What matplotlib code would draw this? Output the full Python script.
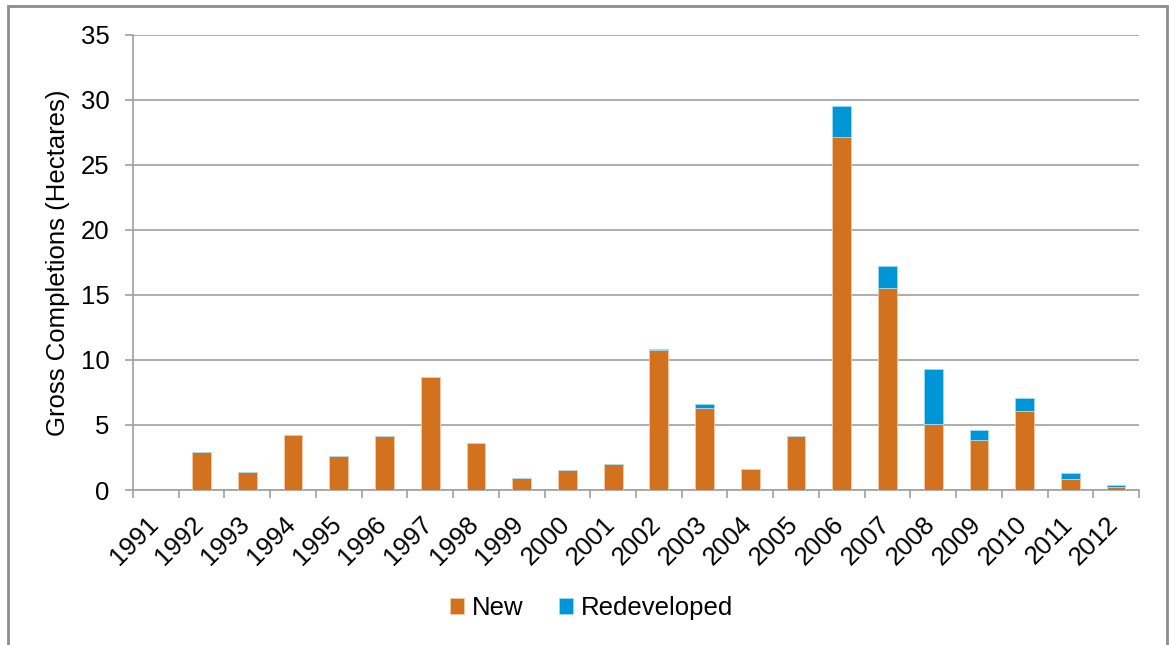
import numpy as np
import matplotlib.pyplot as plt
from matplotlib.patches import Rectangle
from matplotlib.transforms import ScaledTranslation

plt.rcParams['font.family'] = ['Liberation Sans', 'DejaVu Sans']

# Gross completions by year (hectares)
years = [str(y) for y in range(1991, 2013)]
new = [0.0, 2.96, 1.40, 4.26, 2.58, 4.16, 8.67, 3.65, 0.92, 1.51, 1.99,
       10.74, 6.33, 1.61, 4.16, 27.17, 15.52, 5.06, 3.88, 6.04, 0.82, 0.21]
redeveloped = [0.0, 0.0, 0.0, 0.0, 0.0, 0.0, 0.0, 0.0, 0.0, 0.0, 0.0,
               0.12, 0.30, 0.0, 0.0, 2.39, 1.69, 4.24, 0.70, 1.00, 0.47, 0.21]

orange = '#D2711E'
blue = '#0095D6'
grey = '#A0A0A0'
fs = 18.5

fig = plt.figure(figsize=(11.69, 6.45), dpi=100)
ax = fig.add_axes([0.1138, 0.2403, 0.8605, 0.7057])

x = np.arange(len(years))
w = 0.41
ax.bar(x, new, width=w, color=orange, edgecolor='#F2C9A8', linewidth=0.6,
       label='New', zorder=3)
ax.bar(x, redeveloped, width=w, bottom=new, color=blue, edgecolor='#9FDCF5',
       linewidth=0.6, label='Redeveloped', zorder=3)

ax.set_xlim(-0.5, len(years) - 0.5)
ax.set_ylim(0, 35)
ax.set_yticks(range(0, 36, 5))
ax.yaxis.grid(True, color=grey, linewidth=1.2, zorder=0)
ax.tick_params(axis='y', direction='out', length=5.8, color=grey, width=1.2,
               labelsize=fs, pad=11)

# boundary tick marks between years, labels centred on the bars
ax.set_xticks(np.arange(-0.5, len(years)), labels=[''] * (len(years) + 1))
ax.set_xticks(x, labels=years, minor=True)
ax.tick_params(axis='x', which='major', direction='out', length=6,
               color=grey, width=1.2)
ax.tick_params(axis='x', which='minor', length=0, labelsize=fs, pad=16)
shift = ScaledTranslation(-0.10, 0, fig.dpi_scale_trans)
for lbl in ax.get_xticklabels(minor=True):
    lbl.set_rotation(45)
    lbl.set_ha('right')
    lbl.set_rotation_mode('anchor')
    lbl.set_transform(lbl.get_transform() + shift)

for side in ['top', 'right']:
    ax.spines[side].set_visible(False)
for side in ['left', 'bottom']:
    ax.spines[side].set_color(grey)
    ax.spines[side].set_linewidth(1.2)

ax.set_ylabel('Gross Completions (Hectares)', fontsize=fs, labelpad=8)

fig.legend(loc='center', bbox_to_anchor=(0.506, 0.057), ncol=2,
           frameon=False, fontsize=fs, handlelength=0.55,
           handleheight=0.55, handletextpad=0.3, columnspacing=1.4)

# outer frame
fig.patches.append(Rectangle((8 / 1169, -0.01), 1158.5 / 1169, 1 - 6 / 645 + 0.01,
                             transform=fig.transFigure, fill=False,
                             edgecolor='#8C8C8C', linewidth=2))

fig.savefig('out.png', dpi=100)
